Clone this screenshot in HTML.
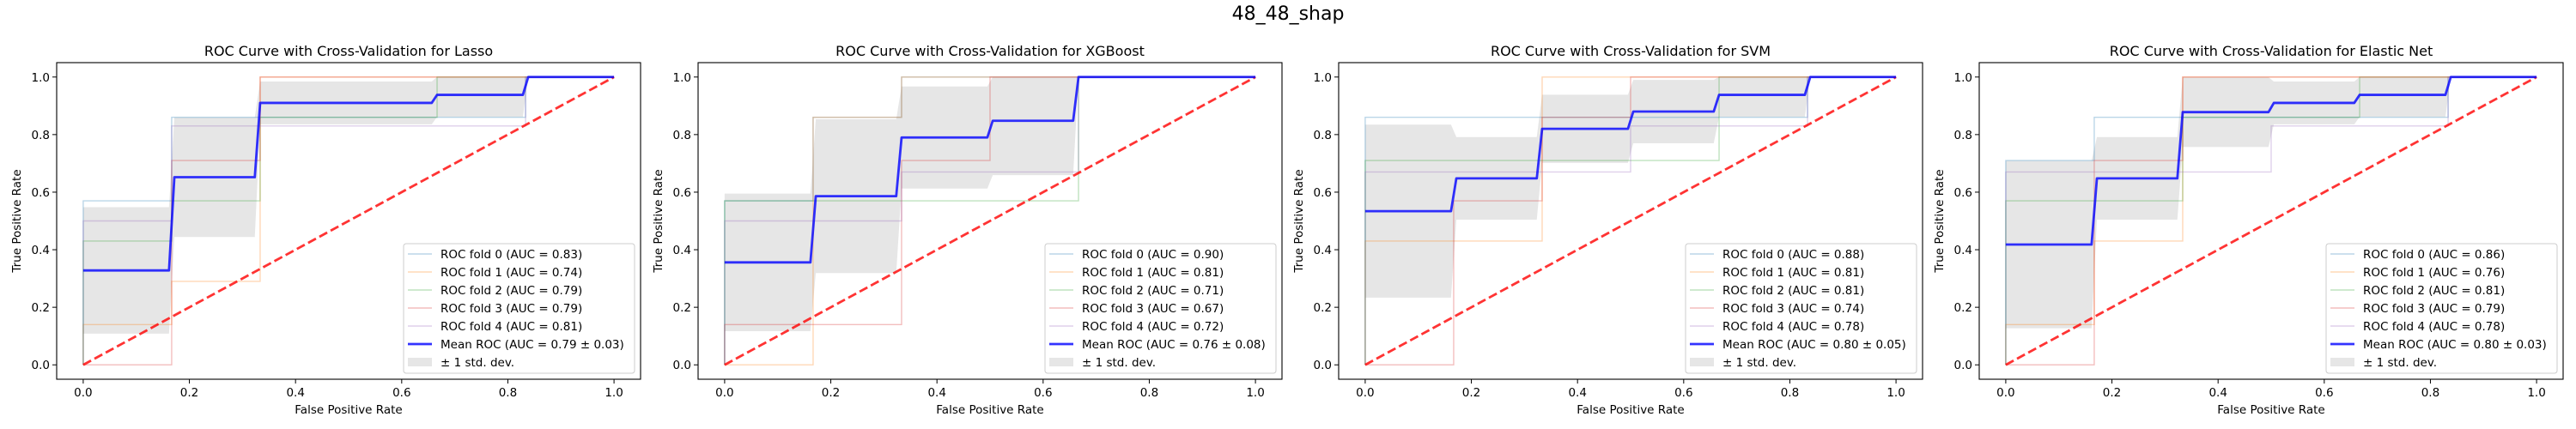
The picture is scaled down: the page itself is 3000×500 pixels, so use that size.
<!DOCTYPE html>
<html><head><meta charset="utf-8"><style>
html,body{margin:0;padding:0;background:#fff;}
svg{display:block;font-family:"DejaVu Sans","Liberation Sans",sans-serif;}
</style></head><body>
<svg id="fig" width="3000" height="500" viewBox="0 0 3000 500" xmlns="http://www.w3.org/2000/svg">
<rect width="3000" height="500" fill="#fff"/>
<text x="1500" y="23" font-size="22" text-anchor="middle" fill="#000">48_48_shap</text>
</svg>
<script>
// FPR breakpoints (6 negatives) and per-fold TPR level on each FPR interval
const fprSteps = [0, 1/6, 2/6, 3/6, 4/6, 5/6, 1];
const modelNames = ["Lasso", "XGBoost", "SVM", "Elastic Net"];
const lassoFolds = [
  [0.57,0.86,0.86,0.86,0.86,1],
  [0.14,0.29,1,1,1,1],
  [0.43,0.57,0.86,0.86,1,1],
  [0,0.71,1,1,1,1],
  [0.5,0.83,0.83,0.83,0.83,1]
];
const xgbFolds = [
  [0.57,0.86,1,1,1,1],
  [0,0.86,1,1,1,1],
  [0.57,0.57,0.57,0.57,1,1],
  [0.14,0.14,0.71,1,1,1],
  [0.5,0.5,0.67,0.67,1,1]
];
const svmFolds = [
  [0.86,0.86,0.86,0.86,0.86,1],
  [0.43,0.43,1,1,1,1],
  [0.71,0.71,0.71,0.71,1,1],
  [0,0.57,0.86,1,1,1],
  [0.67,0.67,0.67,0.83,0.83,1]
];
const enetFolds = [
  [0.71,0.86,0.86,0.86,0.86,1],
  [0.14,0.43,1,1,1,1],
  [0.57,0.57,0.86,0.86,1,1],
  [0,0.71,1,1,1,1],
  [0.67,0.67,0.67,0.83,0.83,1]
];
const lassoAUC = ["0.83","0.74","0.79","0.79","0.81"];
const xgbAUC = ["0.90","0.81","0.71","0.67","0.72"];
const svmAUC = ["0.88","0.81","0.81","0.74","0.78"];
const enetAUC = ["0.86","0.76","0.81","0.79","0.78"];
const meanAUCLabels = ["0.79 ± 0.03","0.76 ± 0.08","0.80 ± 0.05","0.80 ± 0.03"];
const tickValues = [0, 0.2, 0.4, 0.6, 0.8, 1.0];
const tickLabels = ["0.0","0.2","0.4","0.6","0.8","1.0"];

const allFolds = [lassoFolds, xgbFolds, svmFolds, enetFolds];
const allAUC = [lassoAUC, xgbAUC, svmAUC, enetAUC];
const panelLefts = [66, 813, 1559, 2305];
const AX_W = 680, AX_TOP = 73, AX_BOT = 442;
const foldColors = ["#1f77b4","#ff7f0e","#2ca02c","#d62728","#9467bd"];
const NS = "http://www.w3.org/2000/svg";
const svg = document.getElementById("fig");

function mk(tag, attrs, parent){
  const e = document.createElementNS(NS, tag);
  for (const k in attrs) e.setAttribute(k, attrs[k]);
  (parent||svg).appendChild(e);
  return e;
}
function xScale(left, v){ return left + AX_W*(v+0.05)/1.1; }
function yScale(v){ return AX_BOT - (AX_BOT-AX_TOP)*(v+0.05)/1.1; }
function levelAt(fold, x){
  let i = 0;
  while (i < fold.length-1 && x >= fprSteps[i+1]-1e-12) i++;
  return fold[i];
}

allFolds.forEach((folds, p) => {
  const L = panelLefts[p];
  const X = v => xScale(L, v);
  const g = mk("g", {});
  
  

  // mean / std on grid
  const grid = [];
  for (let i = 0; i < 100; i++) grid.push(i/99);
  const means = [], ups = [], los = [];
  grid.forEach(x => {
    const vals = folds.map(f => levelAt(f, x));
    const m = vals.reduce((a,b)=>a+b,0)/vals.length;
    const sd = Math.sqrt(vals.reduce((a,b)=>a+(b-m)*(b-m),0)/vals.length);
    means.push(m); ups.push(Math.min(1, m+sd)); los.push(Math.max(0, m-sd));
  });
  means[99] = 1;

  // std band
  let d = "";
  grid.forEach((x,i) => { d += (i?"L":"M") + X(x).toFixed(2) + "," + yScale(ups[i]).toFixed(2); });
  for (let i = 99; i >= 0; i--) d += "L" + X(grid[i]).toFixed(2) + "," + yScale(los[i]).toFixed(2);
  const band = mk("path", {d: d+"Z", fill:"#808080", "fill-opacity":"0.2", stroke:"none"}, g);
  
  

  // fold curves
  folds.forEach((f, k) => {
    let pd = "M" + X(0) + "," + yScale(0);
    f.forEach((v, i) => {
      pd += "L" + X(fprSteps[i]) + "," + yScale(v) + "L" + X(fprSteps[i+1]) + "," + yScale(v);
    });
    const pl = mk("path", {d: pd, fill:"none", stroke: foldColors[k], "stroke-opacity":"0.3", "stroke-width":"1.4"}, g);
    
    
  });

  // chance line
  const ch = mk("line", {x1:X(0), y1:yScale(0), x2:X(1), y2:yScale(1), stroke:"#ff0000", "stroke-opacity":"0.8", "stroke-width":"2.8", "stroke-dasharray":"10.4,4.5"}, g);
  
  

  // mean line
  let md = "";
  grid.forEach((x,i) => { md += (i?"L":"M") + X(x).toFixed(2) + "," + yScale(means[i]).toFixed(2); });
  const ml = mk("path", {d: md, fill:"none", stroke:"#0000ff", "stroke-opacity":"0.8", "stroke-width":"2.8", "stroke-linejoin":"round"}, g);
  
  

  // axes frame
  const fr = mk("rect", {x:L, y:AX_TOP, width:AX_W, height:AX_BOT-AX_TOP, fill:"none", stroke:"#000", "stroke-width":"1.1"}, g);
  
  

  // ticks
  tickValues.forEach((v, i) => {
    mk("line", {x1:X(v), y1:AX_BOT, x2:X(v), y2:AX_BOT+5, stroke:"#000", "stroke-width":"1"}, g);
    const tx = mk("text", {x:X(v), y:AX_BOT+20, "font-size":"13.5", "text-anchor":"middle", fill:"#000"}, g);
    tx.textContent = tickLabels[i];
    
    
    mk("line", {x1:L-5, y1:yScale(v), x2:L, y2:yScale(v), stroke:"#000", "stroke-width":"1"}, g);
    const ty = mk("text", {x:L-8, y:yScale(v)+5, "font-size":"13.5", "text-anchor":"end", fill:"#000"}, g);
    ty.textContent = tickLabels[i];
    
    
  });

  const xl = mk("text", {x:L+AX_W/2, y:482, "font-size":"13.5", "text-anchor":"middle", fill:"#000"}, g);
  xl.textContent = "False Positive Rate";
  
  
  const yl = mk("text", {x:0, y:0, "font-size":"13.5", "text-anchor":"middle", fill:"#000", transform:"translate(" + (L-42) + "," + ((AX_TOP+AX_BOT)/2) + ") rotate(-90)"}, g);
  yl.textContent = "True Positive Rate";
  
  
  const tt = mk("text", {x:L+AX_W/2, y:65, "font-size":"16", "text-anchor":"middle", fill:"#000"}, g);
  tt.textContent = "ROC Curve with Cross-Validation for " + modelNames[p];
  
  

  // legend
  const lg = mk("g", {}, g);
  
  
  const LW = 269, LH = 151, lx = L+AX_W-7-LW, ly = AX_BOT-7-LH;
  mk("rect", {x:lx, y:ly, width:LW, height:LH, rx:3, fill:"#fff", "fill-opacity":"0.8", stroke:"#cccccc", "stroke-width":"1"}, lg);
  const labels = allAUC[p].map((a,k) => "ROC fold " + k + " (AUC = " + a + ")");
  labels.push("Mean ROC (AUC = " + meanAUCLabels[p] + ")");
  labels.push("± 1 std. dev.");
  labels.forEach((t, k) => {
    const cy = ly + 12 + k*21;
    const e = mk("g", {}, lg);
    
    
    if (k < 5) mk("line", {x1:lx+5, y1:cy, x2:lx+33, y2:cy, stroke:foldColors[k], "stroke-opacity":"0.3", "stroke-width":"1.4"}, e);
    else if (k === 5) mk("line", {x1:lx+5, y1:cy, x2:lx+33, y2:cy, stroke:"#0000ff", "stroke-opacity":"0.8", "stroke-width":"2.8"}, e);
    else mk("rect", {x:lx+5, y:cy-5, width:28, height:10, fill:"#808080", "fill-opacity":"0.2"}, e);
    const tx = mk("text", {x:lx+43, y:cy+5, "font-size":"13.5", fill:"#000"}, e);
    tx.textContent = t;
  });
});
</script>
</body></html>
